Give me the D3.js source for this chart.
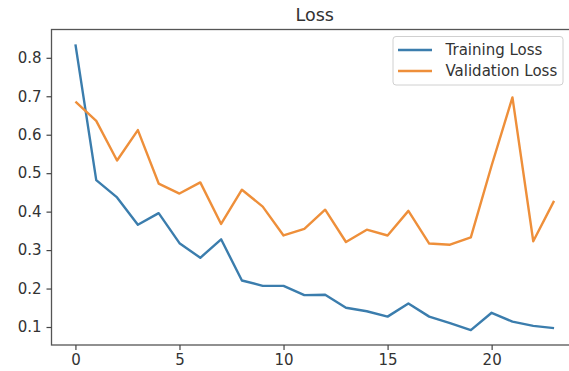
<!DOCTYPE html>
<html><head><meta charset="utf-8">
<script src="https://cdn.jsdelivr.net/npm/d3@7"></script>
<style>body{margin:0;background:#fff;}svg{display:block;}</style>
</head><body>
<svg id="chart" width="569" height="371"></svg>
<script>
const epochs = d3.range(24);
const trainingLoss = [0.835,0.482,0.437,0.366,0.396,0.318,0.280,0.328,0.221,0.207,0.207,0.183,0.184,0.150,0.141,0.127,0.161,0.127,0.110,0.092,0.137,0.114,0.103,0.097];
const validationLoss = [0.686,0.636,0.533,0.612,0.473,0.447,0.476,0.368,0.457,0.413,0.338,0.355,0.405,0.321,0.353,0.338,0.402,0.317,0.314,0.333,0.520,0.697,0.323,0.428];
const xTicks = [0,5,10,15,20];
const yTicks = [0.1,0.2,0.3,0.4,0.5,0.6,0.7,0.8];
const seriesNames = ["Training Loss","Validation Loss"];
const colors = ["#3b7dad","#ee8f3a"];

(function(){
const svg = d3.select("#chart");
const mL = 51.5, mR = 578, mT = 29.5, mB = 345;
const x = d3.scaleLinear().domain([-1.15, 24.15]).range([mL, mR]);
const y = d3.scaleLinear().domain([0.0532, 0.8736]).range([mB, mT]);
const font = "DejaVu Sans, sans-serif";

svg.append("rect").attr("x", mL).attr("y", mT).attr("width", mR-mL).attr("height", mB-mT)
  .attr("fill","none").attr("stroke","#555").attr("stroke-width",1.3);

const xAxis = svg.append("g").attr("transform",`translate(0,${mB})`)
  .call(d3.axisBottom(x).tickValues(xTicks).tickSize(5).tickPadding(4).tickFormat(d3.format("d")));
const yAxis = svg.append("g").attr("transform",`translate(${mL},0)`)
  .call(d3.axisLeft(y).tickValues(yTicks).tickSize(5).tickPadding(5).tickFormat(d3.format(".1f")));
[xAxis,yAxis].forEach(a=>{
  a.select(".domain").remove();
  a.selectAll("line").attr("stroke","#444").attr("stroke-width",1.2);
  a.selectAll("text").attr("font-family",font).attr("font-size",15).attr("fill","#333");
});

const line = d3.line().x((d,i)=>x(epochs[i])).y(d=>y(d));
[trainingLoss, validationLoss].forEach((s,k)=>{
  svg.append("path").datum(s).attr("d",line).attr("fill","none")
    .attr("stroke",colors[k]).attr("stroke-width",2.4).attr("stroke-linejoin","round");
});

svg.append("text").attr("x",(mL+mR)/2).attr("y",21).attr("text-anchor","middle")
  .attr("font-family",font).attr("font-size",17.5).attr("fill","#333").text("Loss");

const lg = svg.append("g");
lg.append("rect").attr("x",393).attr("y",36.5).attr("width",170).attr("height",48.5)
  .attr("rx",3).attr("fill","#fff").attr("stroke","#d0d0d0").attr("stroke-width",1);
seriesNames.forEach((n,k)=>{
  const yy = 50 + k*21;
  lg.append("line").attr("x1",398).attr("x2",432).attr("y1",yy).attr("y2",yy)
    .attr("stroke",colors[k]).attr("stroke-width",2.4);
  lg.append("text").attr("x",445.5).attr("y",yy+5.3).attr("font-family",font).attr("font-size",15)
    .attr("fill","#333").text(n);
});
})();
</script>
</body></html>
